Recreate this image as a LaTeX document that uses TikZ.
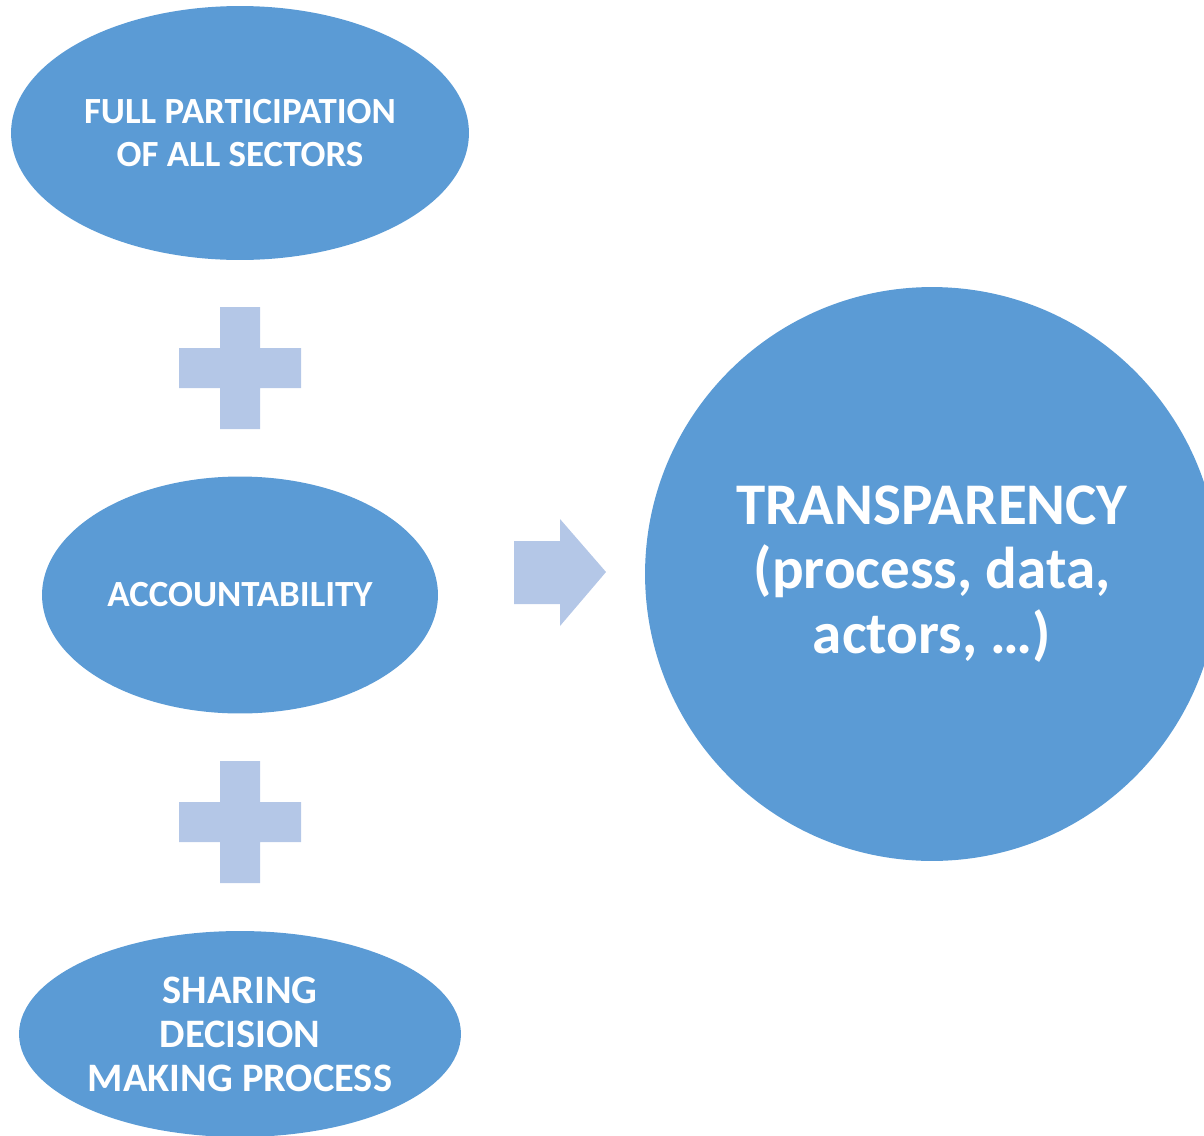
\documentclass[tikz,border=0pt]{standalone}
\usepackage{fontspec}
\setmainfont{Carlito}
\usetikzlibrary{shapes.geometric}

\definecolor{blobblue}{HTML}{5B9BD5}
\definecolor{paleblue}{HTML}{B4C7E7}

\begin{document}
\begin{tikzpicture}[x=0.02cm, y=-0.02cm,
  blob/.style={ellipse, fill=blobblue, inner sep=0pt, text=white, align=center,
    font=\bfseries\fontsize{21}{24}\selectfont},
  bigblob/.style={circle, fill=blobblue, inner sep=0pt, text=white, align=center,
    minimum size=11.48cm, font=\bfseries\fontsize{33.6}{36.8}\selectfont}]
\useasboundingbox (0,0) rectangle (1204,1136);
\clip (0,0) rectangle (1204,1136);
% the three ellipses on the left
\node[blob, minimum width=9.16cm, minimum height=5.08cm] (participation) at (240,133) {FULL PARTICIPATION\\OF ALL SECTORS};
\node[blob, minimum width=7.92cm, minimum height=4.74cm] (accountability) at (240,595) {ACCOUNTABILITY};
\node[blob, minimum width=8.84cm, minimum height=4.12cm, font=\bfseries\fontsize{23}{25}\selectfont] (sharing) at (240,1034) {SHARING\\DECISION\\MAKING PROCESS};
% the big circle
\node[bigblob] (transparency) at (932,574) {TRANSPARENCY\\(process, data,\\actors, \dots)};
% plus signs
\foreach \y in {368,822} {
  \fill[paleblue] (220,\y-61) -- (260,\y-61) -- (260,\y-20) -- (301,\y-20) -- (301,\y+20)
    -- (260,\y+20) -- (260,\y+61) -- (220,\y+61) -- (220,\y+20) -- (179,\y+20)
    -- (179,\y-20) -- (220,\y-20) -- cycle;
}
% block arrow
\fill[paleblue] (514,541) -- (560,541) -- (560,519) -- (606,572) -- (560,626)
  -- (560,604) -- (514,604) -- cycle;
\end{tikzpicture}
\end{document}
